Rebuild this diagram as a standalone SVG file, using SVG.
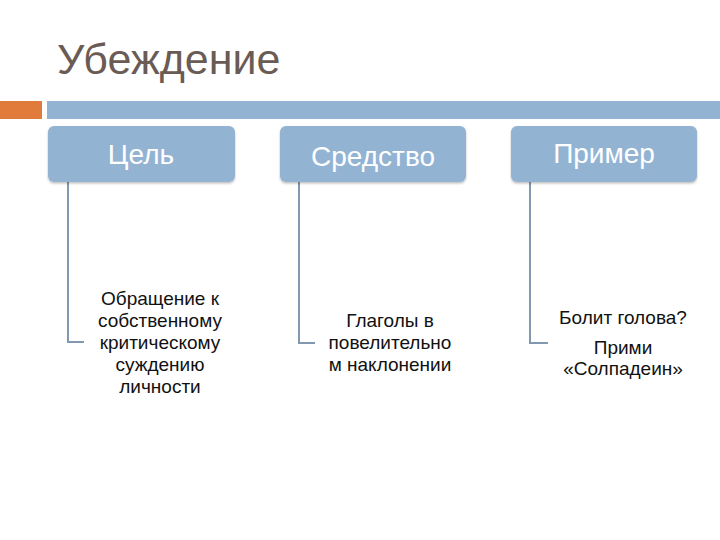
<svg xmlns="http://www.w3.org/2000/svg" width="720" height="540" viewBox="0 0 720 540">
<defs>
<filter id="sh" x="-10%" y="-10%" width="120%" height="130%">
<feDropShadow dx="0" dy="1.5" stdDeviation="1.2" flood-color="#000" flood-opacity="0.25"/>
</filter>
</defs>
<style>
.box{fill:#93b3d3;filter:url(#sh)}
.hd{font-family:"Liberation Sans",Arial,sans-serif;font-size:28px;fill:#ffffff;text-anchor:middle}
.bd{font-family:"Liberation Sans",Arial,sans-serif;font-size:19px;fill:#111111;text-anchor:middle}
.ln{fill:none;stroke:#8198b0;stroke-width:2}
</style>
<rect width="720" height="540" fill="#ffffff"/>
<text x="57" y="74" font-family="'Liberation Sans',Arial,sans-serif" font-size="43" fill="#6b5b55">Убеждение</text>
<rect x="0" y="101" width="42" height="18" fill="#e07b3c"/>
<rect x="47" y="101" width="673" height="18" fill="#93b3d3"/>
<g id="connectors">
<path class="ln" d="M68,182 V342 H84"/>
<path class="ln" d="M299,182 V343 H315"/>
<path class="ln" d="M530,182 V343 H548"/>
</g>
<g id="n1">
<rect class="box" x="48" y="126" width="187" height="56" rx="6"/>
<text class="hd" x="141" y="164">Цель</text>
</g>
<g id="n2">
<rect class="box" x="280" y="126" width="186" height="56" rx="6"/>
<text class="hd" x="373" y="166">Средство</text>
</g>
<g id="n3">
<rect class="box" x="511" y="126" width="186" height="56" rx="6"/>
<text class="hd" x="604" y="163">Пример</text>
</g>
<g id="t1">
<text class="bd" x="160" y="305">Обращение к</text>
<text class="bd" x="160" y="327">собственному</text>
<text class="bd" x="160" y="349">критическому</text>
<text class="bd" x="160" y="371">суждению</text>
<text class="bd" x="160" y="393">личности</text>
</g>
<g id="t2">
<text class="bd" x="390" y="327">Глаголы в</text>
<text class="bd" x="390" y="349">повелительно</text>
<text class="bd" x="390" y="371">м наклонении</text>
</g>
<g id="t3">
<text class="bd" x="623" y="324">Болит голова?</text>
<text class="bd" x="623" y="354">Прими</text>
<text class="bd" x="623" y="375">«Солпадеин»</text>
</g>
</svg>
